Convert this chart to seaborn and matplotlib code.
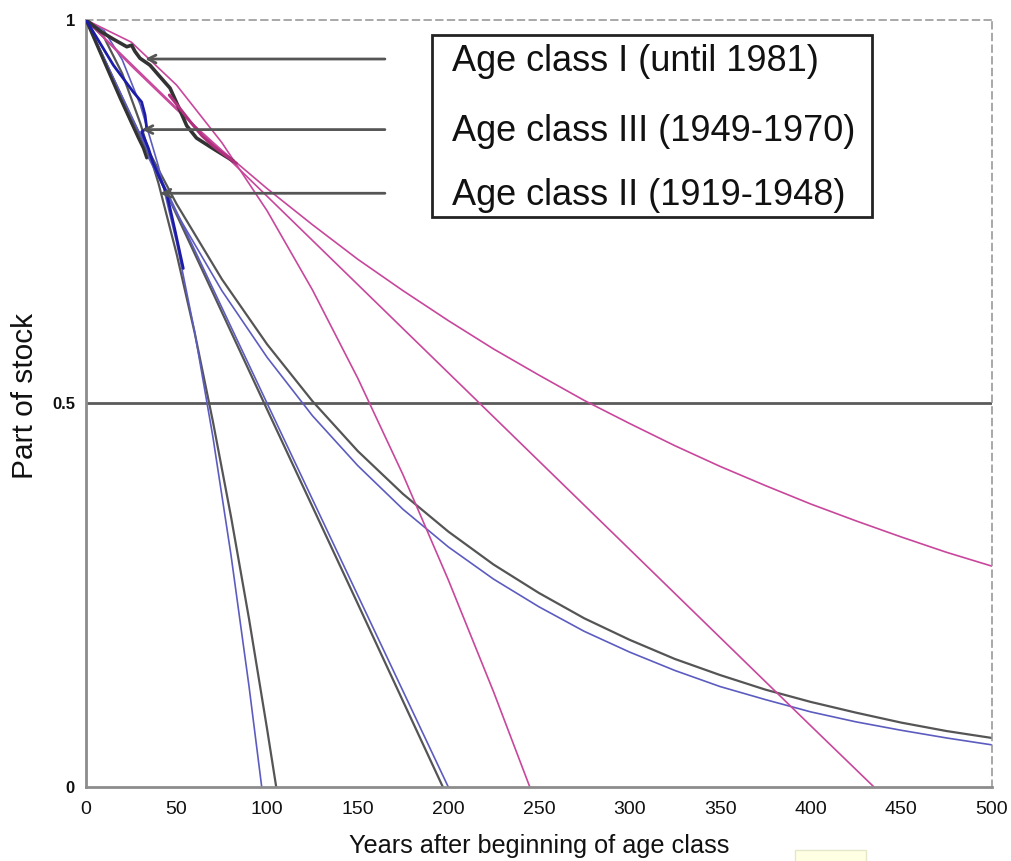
import matplotlib
matplotlib.use("Agg")
import matplotlib.pyplot as plt
from matplotlib.patches import Rectangle
import seaborn as sns

# ---- Survival of building stock by age class ----
# Model curves: fitted share of stock remaining vs. years after start of class

# Age class I (until 1981) - magenta
years_I_exp = [0, 25, 50, 75, 100, 125, 150, 175, 200, 225, 250, 275, 300,
               325, 350, 375, 400, 425, 450, 475, 500]
stock_I_exp = [1.0, 0.940, 0.883, 0.830, 0.780, 0.733, 0.688, 0.647, 0.608,
               0.571, 0.537, 0.504, 0.474, 0.445, 0.418, 0.393, 0.369, 0.347,
               0.326, 0.306, 0.288]
years_I_lin = [0, 100, 200, 300, 400, 435]
stock_I_lin = [1.0, 0.770, 0.540, 0.310, 0.080, 0.0]
years_I_conc = [0, 25, 50, 75, 100, 125, 150, 175, 200, 225, 245]
stock_I_conc = [1.0, 0.971, 0.915, 0.840, 0.751, 0.648, 0.533, 0.407, 0.270,
                0.124, 0.0]

# Age class II (1919-1948) - blue
years_II_exp = [0, 25, 50, 75, 100, 125, 150, 175, 200, 225, 250, 275, 300,
                325, 350, 375, 400, 425, 450, 475, 500]
stock_II_exp = [1.0, 0.865, 0.748, 0.647, 0.560, 0.484, 0.419, 0.362, 0.313,
                0.271, 0.235, 0.203, 0.176, 0.152, 0.131, 0.114, 0.098, 0.085,
                0.074, 0.064, 0.055]
years_II_lin = [0, 50, 100, 150, 200]
stock_II_lin = [1.0, 0.750, 0.500, 0.250, 0.0]
years_II_conc = [0, 10, 20, 30, 40, 50, 60, 70, 80, 90, 97]
stock_II_conc = [1.0, 0.986, 0.948, 0.889, 0.809, 0.710, 0.593, 0.457, 0.303,
                 0.131, 0.0]

# Age class III (1949-1970) - grey/black
years_III_exp = [0, 25, 50, 75, 100, 125, 150, 175, 200, 225, 250, 275, 300,
                 325, 350, 375, 400, 425, 450, 475, 500]
stock_III_exp = [1.0, 0.872, 0.760, 0.662, 0.577, 0.503, 0.438, 0.382, 0.333,
                 0.290, 0.253, 0.220, 0.192, 0.167, 0.146, 0.127, 0.111, 0.097,
                 0.084, 0.073, 0.064]
years_III_lin = [0, 50, 100, 150, 197]
stock_III_lin = [1.0, 0.746, 0.492, 0.239, 0.0]
years_III_conc = [0, 10, 20, 30, 40, 50, 60, 70, 80, 90, 100, 105]
stock_III_conc = [1.0, 0.977, 0.930, 0.865, 0.787, 0.695, 0.592, 0.477, 0.353,
                  0.219, 0.075, 0.0]

# Observed stock (statistics)
obs_years_I_pink = [46, 52, 58, 64, 70, 76, 83]
obs_stock_I_pink = [0.902, 0.884, 0.866, 0.849, 0.836, 0.825, 0.813]
obs_years_I = [0, 8, 15, 22.5, 25.2, 27.0, 29.8, 35.3, 40.8, 46.4, 51.9,
               55.6, 61.0, 70.3, 81.3]
obs_stock_I = [1.0, 0.985, 0.975, 0.965, 0.967, 0.959, 0.950, 0.941, 0.926,
               0.911, 0.882, 0.862, 0.846, 0.832, 0.816]
obs_years_II = [0, 15.1, 26.1, 30.7, 32.6, 33.5, 30.7, 34.4, 37.1, 44.5,
                49.1, 53.7]
obs_stock_II = [1.0, 0.941, 0.906, 0.893, 0.876, 0.859, 0.854, 0.833, 0.813,
                0.774, 0.726, 0.676]
obs_years_III = [0, 7.7, 18.8, 28.9, 31.6, 33.5]
obs_stock_III = [1.0, 0.958, 0.898, 0.846, 0.833, 0.820]

# Legend box entries and the curve points their arrows point to
box_labels = ["Age class I (until 1981)", "Age class III (1949-1970)",
              "Age class II (1919-1948)"]
arrow_tips = [(32.6, 0.949), (30.9, 0.857), (40.8, 0.774)]

x_ticks = [0, 50, 100, 150, 200, 250, 300, 350, 400, 450, 500]
y_ticks = [0, 0.5, 1]
y_tick_labels = ["0", "0.5", "1"]

sns.set_theme(style="white")
plt.rcParams["font.family"] = ["Liberation Sans", "DejaVu Sans"]

PINK = "#c8479c"
PINK_DARK = "#b0307e"
BLUE = "#5c5cc0"
BLUE_DARK = "#1c1ca8"
GREY = "#555555"
BLACK = "#333333"

fig = plt.figure(figsize=(10.12, 8.61), dpi=100)
ax = fig.add_axes([0.085, 0.0859, 0.895, 0.891])


def line(xs, ys, color, lw, z=2):
    sns.lineplot(x=xs, y=ys, ax=ax, color=color, linewidth=lw, sort=False,
                 estimator=None, zorder=z)


ax.axhline(0.5, color="#5a5a5a", lw=2.0, zorder=1)

# fitted curves
line(years_III_exp, stock_III_exp, GREY, 1.6)
line(years_III_lin, stock_III_lin, GREY, 1.6)
line(years_III_conc, stock_III_conc, GREY, 1.6)
line(years_II_exp, stock_II_exp, BLUE, 1.2)
line(years_II_lin, stock_II_lin, BLUE, 1.2)
line(years_II_conc, stock_II_conc, BLUE, 1.2)
line(years_I_exp, stock_I_exp, PINK, 1.2)
line(years_I_lin, stock_I_lin, PINK, 1.2)
line(years_I_conc, stock_I_conc, PINK, 1.2)

# observed data
line(obs_years_I, obs_stock_I, BLACK, 2.6, z=3)
line(obs_years_I_pink, obs_stock_I_pink, PINK_DARK, 2.2, z=3)
line(obs_years_III, obs_stock_III, BLACK, 2.2, z=3)
line(obs_years_II, obs_stock_II, BLUE_DARK, 2.0, z=4)

# arrows from the legend box to the curves
for (tx, ty) in arrow_tips:
    ax.annotate("", xy=(tx, ty), xytext=(165, ty),
                arrowprops=dict(arrowstyle="->", color=GREY, lw=2.0,
                                mutation_scale=14, shrinkA=0, shrinkB=0),
                zorder=5)

# legend box with its three entries
ax.add_patch(Rectangle((191, 0.743), 242.8, 0.237, fill=True, facecolor="white",
                       edgecolor="#222222", lw=2.0, zorder=6))
for label, (_, ty) in zip(box_labels, arrow_tips):
    ax.text(202, ty - 0.003, label, fontsize=26, color="#111111", va="center",
            ha="left", zorder=7)

ax.set_xlim(0, 500)
ax.set_ylim(0, 1)
ax.set_xticks(x_ticks)
ax.set_xticklabels([str(t) for t in x_ticks], fontsize=14)
ax.set_yticks(y_ticks)
ax.set_yticklabels(y_tick_labels, fontsize=12, fontweight="bold")
ax.tick_params(axis="both", direction="out", length=4, width=1,
               color="#888888", labelcolor="#111111")
ax.tick_params(axis="x", pad=6)
ax.tick_params(axis="y", pad=4)

for side in ("left", "bottom"):
    ax.spines[side].set_color("#8c8c8c")
    ax.spines[side].set_linewidth(2.0)
for side in ("top", "right"):
    ax.spines[side].set_color("#9a9a9a")
    ax.spines[side].set_linewidth(1.2)
    ax.spines[side].set_linestyle((0, (4, 3)))

ax.set_xlabel("Years after beginning of age class", fontsize=18.2,
              color="#111111")
ax.set_ylabel("Part of stock", fontsize=21.5, color="#111111")
ax.xaxis.set_label_coords(0.5, -0.061)
ax.yaxis.set_label_coords(-0.052, 0.51)

# small pale text frame at the bottom edge
fig.patches.append(Rectangle((0.7856, -0.005), 0.070, 0.018,
                             transform=fig.transFigure, facecolor="#ffffe4",
                             edgecolor="#e6e6c8", lw=1.0))

fig.savefig("out.png", dpi=100)
